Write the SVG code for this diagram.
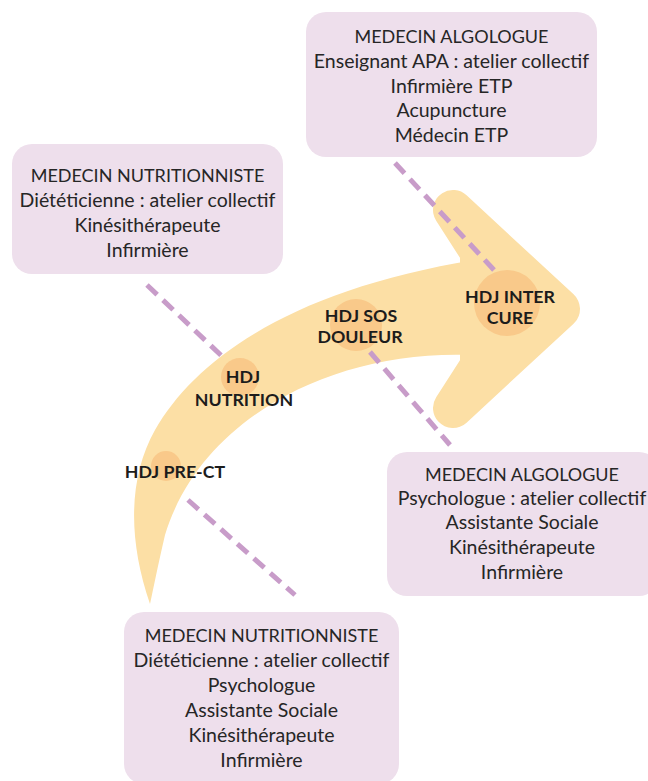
<svg xmlns="http://www.w3.org/2000/svg" width="648" height="781" viewBox="0 0 648 781">
<style>
.box{fill:#EEDFEC}
.bt{font-family:Lato,"Open Sans",sans-serif;font-size:19.5px;fill:#262626;text-anchor:middle}
.hd{font-size:18px}
.st{font-family:Lato,"Open Sans",sans-serif;font-size:17.8px;font-weight:bold;fill:#1c1c1c;text-anchor:middle}
.dot{fill:#F9C98A}
.arrow{fill:#FCDFA5}
.con{stroke:#C89CC9;stroke-width:5;stroke-dasharray:14 8;fill:none}
</style>
<rect width="648" height="781" fill="#ffffff"/>
<g id="arrow">
<path class="arrow" d="M150,604 C128,540 128,478 155,430 C195,360 290,290 475,260 L475,358 L470,355 C330,350 200,420 165,535 C158,565 153,590 150,604 Z"/>
<polygon class="arrow" points="453,210 560,309 453,408 480,366 480,252" stroke="#FCDFA5" stroke-width="40" stroke-linejoin="round"/>
</g>
<g id="stage-circles">
<circle class="dot" cx="166" cy="466" r="15"/>
<circle class="dot" cx="240" cy="377" r="19"/>
<circle class="dot" cx="356" cy="325" r="26"/>
<circle class="dot" cx="507" cy="303" r="33"/>
</g>
<g id="connectors">
<line class="con" x1="147" y1="285" x2="226" y2="360"/>
<line class="con" x1="188" y1="500" x2="295" y2="595"/>
<line class="con" x1="395" y1="163" x2="494" y2="270"/>
<line class="con" x1="370" y1="352" x2="450" y2="445"/>
</g>
<g id="hdj-pre-ct">
<text class="st" x="175" y="478">HDJ PRE-CT</text>
</g>
<g id="hdj-nutrition">
<text class="st" x="243" y="383">HDJ</text>
<text class="st" x="244" y="406">NUTRITION</text>
</g>
<g id="hdj-sos-douleur">
<text class="st" x="361" y="322">HDJ SOS</text>
<text class="st" x="360" y="343">DOULEUR</text>
</g>
<g id="hdj-inter-cure">
<text class="st" x="510" y="303">HDJ INTER</text>
<text class="st" x="510" y="324">CURE</text>
</g>
<g id="box-algologue-top">
<rect class="box" x="306" y="12" width="291" height="145" rx="20"/>
<text class="bt hd" x="451.5" y="43">MEDECIN ALGOLOGUE</text>
<text class="bt" x="451.5" y="68">Enseignant APA : atelier collectif</text>
<text class="bt" x="451.5" y="93">Infirmière ETP</text>
<text class="bt" x="451.5" y="117">Acupuncture</text>
<text class="bt" x="451.5" y="142">Médecin ETP</text>
</g>
<g id="box-nutritionniste-top">
<rect class="box" x="12" y="144" width="271" height="130" rx="20"/>
<text class="bt hd" x="147.5" y="182">MEDECIN NUTRITIONNISTE</text>
<text class="bt" x="147.5" y="207">Diététicienne : atelier collectif</text>
<text class="bt" x="147.5" y="232">Kinésithérapeute</text>
<text class="bt" x="147.5" y="257">Infirmière</text>
</g>
<g id="box-algologue-bottom">
<rect class="box" x="387" y="452" width="272" height="144" rx="20"/>
<text class="bt hd" x="522" y="481">MEDECIN ALGOLOGUE</text>
<text class="bt" x="522" y="505">Psychologue : atelier collectif</text>
<text class="bt" x="522" y="529">Assistante Sociale</text>
<text class="bt" x="522" y="554">Kinésithérapeute</text>
<text class="bt" x="522" y="579">Infirmière</text>
</g>
<g id="box-nutritionniste-bottom">
<rect class="box" x="124" y="612" width="275" height="172" rx="20"/>
<text class="bt hd" x="261.5" y="642">MEDECIN NUTRITIONNISTE</text>
<text class="bt" x="261.5" y="667">Diététicienne : atelier collectif</text>
<text class="bt" x="261.5" y="692">Psychologue</text>
<text class="bt" x="261.5" y="717">Assistante Sociale</text>
<text class="bt" x="261.5" y="742">Kinésithérapeute</text>
<text class="bt" x="261.5" y="767">Infirmière</text>
</g>
</svg>
